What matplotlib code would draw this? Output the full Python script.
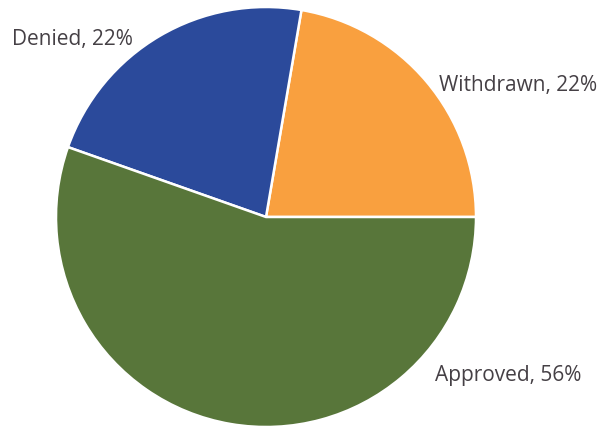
import matplotlib
matplotlib.use("Agg")
import matplotlib.pyplot as plt

categories = ["Withdrawn", "Denied", "Approved"]
values = [22.3, 22.3, 55.4]
pct_labels = ["22%", "22%", "56%"]
colors = ["#F9A03F", "#2B4A9B", "#58763A"]
label_pos = [(439, 341), (12, 387), (435, 51)]

fig = plt.figure(figsize=(6.06, 4.26), dpi=100)
ax = fig.add_axes([0, 0, 1, 1])

ax.pie(values, colors=colors, startangle=0, counterclock=True,
       center=(266, 209), radius=210, frame=True,
       wedgeprops=dict(edgecolor="white", linewidth=1.8))
ax.set_xlim(0, 606)
ax.set_ylim(0, 426)
ax.axis("off")

for cat, pct, (x, y) in zip(categories, pct_labels, label_pos):
    ax.text(x, y, f"{cat}, {pct}", ha="left", va="center",
            fontsize=15, color="#454045", family="Open Sans")

fig.savefig("out.png", dpi=100)
